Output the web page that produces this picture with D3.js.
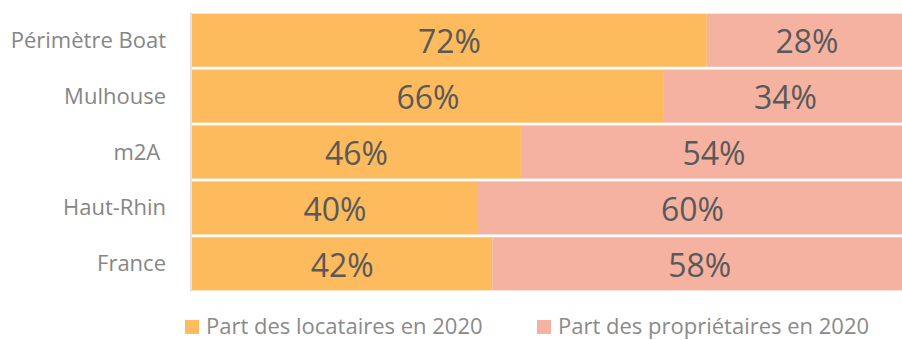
<!DOCTYPE html>
<html>
<head>
<meta charset="utf-8">
<script src="https://cdn.jsdelivr.net/npm/d3@7"></script>
<style>
  html, body { margin: 0; padding: 0; background: #fff; }
  svg { display: block; font-family: "Open Sans", sans-serif; }
  text { white-space: pre; }
</style>
</head>
<body>
<svg id="chart" width="902" height="340"></svg>
<script>
// Housing tenure shares, 2020
const categories = ["Périmètre Boat", "Mulhouse", "m2A ", "Haut-Rhin", "France"];
const locataires = [72, 66, 46, 40, 42];
const proprietaires = [28, 34, 54, 60, 58];
const seriesNames = ["Part des locataires en 2020", "Part des propriétaires en 2020"];
const seriesColors = ["#FDBB5E", "#F6B2A1"];

const svg = d3.select("#chart");
const plotLeft = 192, plotRight = 907, plotTop = 12.5, plotBottom = 291.5;

const rows = categories.map((c, i) => ({ cat: c, loc: locataires[i], prop: proprietaires[i] }));
const stack = d3.stack().keys(["loc", "prop"])(rows);

const x = d3.scaleLinear().domain([0, 100]).range([plotLeft, plotRight]);
const y = d3.scaleBand().domain(categories).range([plotTop, plotBottom])
  .paddingInner(0.05).paddingOuter(0.02);

// bars
const groups = svg.append("g").selectAll("g").data(stack).join("g")
  .attr("fill", (d, i) => seriesColors[i]);
groups.selectAll("rect").data(d => d).join("rect")
  .attr("x", d => x(d[0]))
  .attr("y", d => y(d.data.cat))
  .attr("width", d => x(d[1]) - x(d[0]))
  .attr("height", y.bandwidth());

// value labels
groups.selectAll("text").data(d => d).join("text")
  .attr("x", d => (x(d[0]) + x(d[1])) / 2)
  .attr("y", d => y(d.data.cat) + y.bandwidth() / 2 + 13)
  .attr("text-anchor", "middle")
  .attr("fill", "#595959")
  .attr("font-size", 32)
  .text(d => (d[1] - d[0]) + "%");

// category axis
const yAxis = svg.append("g").attr("transform", `translate(${plotLeft - 1},0)`)
  .call(d3.axisLeft(y).tickSize(0).tickPadding(25));
yAxis.select(".domain").attr("stroke", "#d9d9d9").attr("stroke-width", 1.5)
  .attr("d", `M0,${plotTop}V${plotBottom}`);
yAxis.selectAll(".tick text")
  .attr("dy", null)
  .attr("y", 7.5)
  .attr("fill", "#868686")
  .attr("font-size", 22)
  .attr("font-family", "Open Sans, sans-serif");

// legend
const legendX = [185, 537];
const legend = svg.append("g").selectAll("g").data(seriesNames).join("g")
  .attr("transform", (d, i) => `translate(${legendX[i]},320)`);
legend.append("rect").attr("width", 14).attr("height", 14)
  .attr("fill", (d, i) => seriesColors[i]);
legend.append("text").attr("x", 21).attr("y", 14)
  .attr("fill", "#8a8a8a").attr("font-size", 22)
  .text(d => d);
</script>
</body>
</html>
